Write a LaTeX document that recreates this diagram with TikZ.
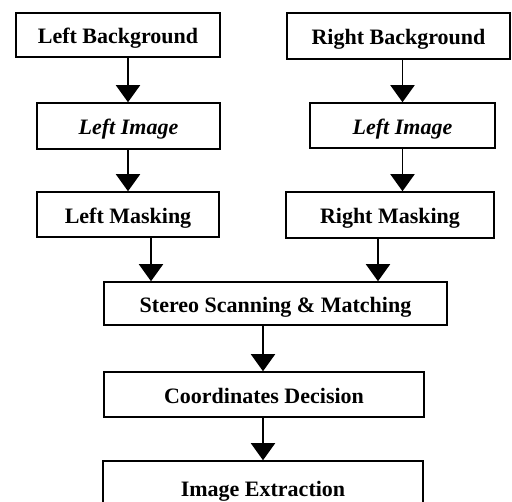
\documentclass[tikz,border=0pt]{standalone}
\usepackage{fontspec}
\setmainfont{Liberation Serif}
\usetikzlibrary{arrows.meta}
\begin{document}
\begin{tikzpicture}[x=1pt,y=-1pt,
  stepbox/.style={draw=black,line width=1.5pt,inner sep=0pt,
    text height=18pt,text depth=0pt,
    font=\fontsize{22}{26}\selectfont\bfseries},
  flow/.style={draw=black,line width=1.6pt,-{Triangle[width=24pt,length=17pt]}}]
  \fill[white] (0,0) rectangle (512,502);
  \clip (0,0) rectangle (512,502);
  % process boxes
  \node[stepbox,minimum width=204pt,minimum height=44pt] (lb) at (118,35) {Left Background};
  \node[stepbox,minimum width=183pt,minimum height=46pt] (li) at (128.5,126) {\itshape Left Image};
  \node[stepbox,minimum width=182pt,minimum height=45pt] (lm) at (128,214.5) {Left Masking};
  \node[stepbox,minimum width=223pt,minimum height=46pt] (rb) at (398.5,36) {Right Background};
  \node[stepbox,minimum width=185pt,minimum height=45pt] (ri) at (402.5,125.5) {\itshape Left Image};
  \node[stepbox,minimum width=208pt,minimum height=46pt] (rm) at (390,215) {Right Masking};
  \node[stepbox,minimum width=343pt,minimum height=43pt] (ss) at (275.5,303.5) {Stereo Scanning \& Matching};
  \node[stepbox,minimum width=320pt,minimum height=45pt] (cd) at (264,394.5) {Coordinates Decision};
  \node[stepbox,minimum width=320pt,minimum height=54pt] (ie) at (263,488) {Image Extraction};
  % connector columns
  \coordinate (cl) at (128,0);
  \coordinate (cr) at (402.5,0);
  \coordinate (ml) at (151,0);
  \coordinate (mr) at (378,0);
  \coordinate (cc) at (263,0);
  % connectors
  \draw[flow] (lb.south -| cl) -- (li.north -| cl);
  \draw[flow] (li.south -| cl) -- (lm.north -| cl);
  \draw[flow] (rb.south -| cr) -- (ri.north -| cr);
  \draw[flow] (ri.south -| cr) -- (rm.north -| cr);
  \draw[flow] (lm.south -| ml) -- (ss.north -| ml);
  \draw[flow] (rm.south -| mr) -- (ss.north -| mr);
  \draw[flow] (ss.south -| cc) -- (cd.north -| cc);
  \draw[flow] (cd.south -| cc) -- (ie.north -| cc);
\end{tikzpicture}
\end{document}
